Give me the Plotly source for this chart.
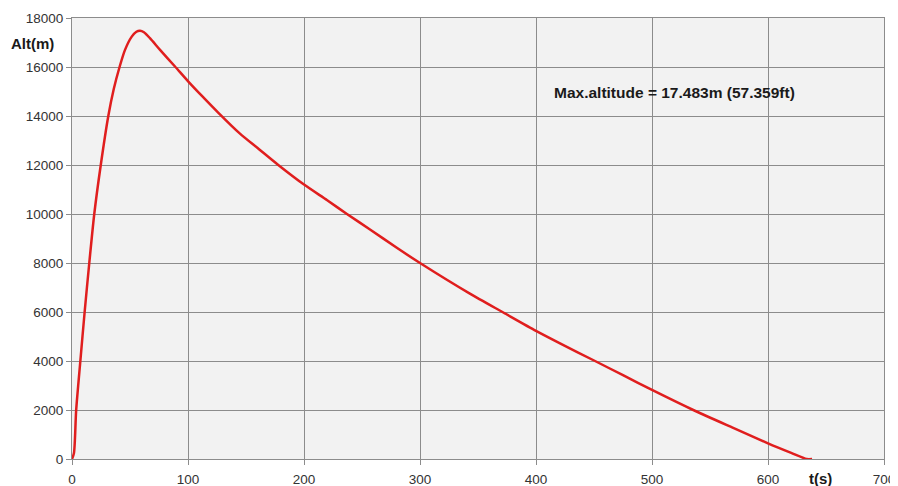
import plotly.graph_objects as go

# Flight time (s) and altitude (m)
time_s = [0, 1.7, 3.6, 7.2, 10.9, 14.9, 19.2, 24.8, 31.3, 36, 41, 45.7, 51.5, 55.5, 58.6, 62, 67.2,
          75.9, 88.8, 100.3, 112, 126, 144.8, 160, 177.8, 200, 220, 237, 256.9, 280, 300, 343,
          371.8, 400, 420.7, 450.9, 475, 500, 535.6, 570, 600, 620, 633.4, 638]
alt_m = [0, 245, 2000, 4000, 6000, 8000, 10000, 12000, 14000, 15100, 16000, 16700, 17240, 17440,
         17483, 17420, 17177, 16700, 16020, 15406, 14820, 14140, 13280, 12690, 12000, 11200, 10560,
         10000, 9370, 8620, 8000, 6750, 5980, 5230, 4720, 4000, 3420, 2820, 2000, 1270, 640, 250,
         0, 0]

x_ticks = [0, 100, 200, 300, 400, 500, 600, 700]
y_ticks = [0, 2000, 4000, 6000, 8000, 10000, 12000, 14000, 16000, 18000]

annotation_text = "Max.altitude = 17.483m (57.359ft)"
y_title = "Alt(m)"
x_title = "t(s)"

# the page body has an 8px margin; the figure is sized to fill the rest of the window
OFF = 8
W, H = 898 - OFF, 486 - OFF
ML, MR, MT, MB = 72 - OFF, 14, 18 - OFF, 27
PW, PH = W - ML - MR, H - MT - MB

fig = go.Figure()
fig.add_trace(go.Scatter(
    x=time_s, y=alt_m, mode="lines",
    line=dict(color="#e01e1e", width=2.5, shape="spline", smoothing=0.7),
    showlegend=False, hoverinfo="skip"))

tick_font = dict(family="Liberation Sans, Arial, sans-serif", size=13.5, color="#333333")
axis_common = dict(
    showgrid=True, gridcolor="#8c8c8c", gridwidth=1,
    showline=True, linecolor="#8c8c8c", linewidth=1,
    ticks="outside", ticklen=5, tickcolor="#8c8c8c",
    tickfont=tick_font, zeroline=False, fixedrange=True, automargin=False)

fig.update_xaxes(range=[0, 700], tickvals=x_ticks, ticktext=[str(v) for v in x_ticks],
                 mirror=True, ticklabelstandoff=3, **axis_common)
fig.update_yaxes(range=[0, 18000], tickvals=y_ticks, ticktext=[str(v) for v in y_ticks],
                 mirror=True, **axis_common)


def px_to_paper(px, py):
    # px, py are window pixel coordinates
    return (px - OFF - ML) / PW, 1 - (py - OFF - MT) / PH


ax_ann, ay_ann = px_to_paper(552, 93)
ax_y, ay_y = px_to_paper(9, 43)
ax_x, ay_x = px_to_paper(820, 479)

fig.update_layout(
    width=W, height=H,
    margin=dict(l=ML, r=MR, t=MT, b=MB),
    plot_bgcolor="#f2f2f2", paper_bgcolor="#ffffff",
    font=dict(family="Liberation Sans, Arial, sans-serif", color="#222222"),
    annotations=[
        dict(text="<b>" + annotation_text + "</b>", x=ax_ann, y=ay_ann, xref="paper", yref="paper",
             xanchor="left", yanchor="middle", showarrow=False,
             font=dict(size=15.5, color="#1a1a1a")),
        dict(text="<b>" + y_title + "</b>", x=ax_y, y=ay_y, xref="paper", yref="paper",
             xanchor="left", yanchor="middle", showarrow=False,
             font=dict(size=15, color="#1a1a1a")),
        dict(text="<b>" + x_title + "</b>", x=ax_x, y=ay_x, xref="paper", yref="paper",
             xanchor="center", yanchor="middle", showarrow=False,
             font=dict(size=15, color="#1a1a1a")),
    ],
)

fig.write_html("out.html")
